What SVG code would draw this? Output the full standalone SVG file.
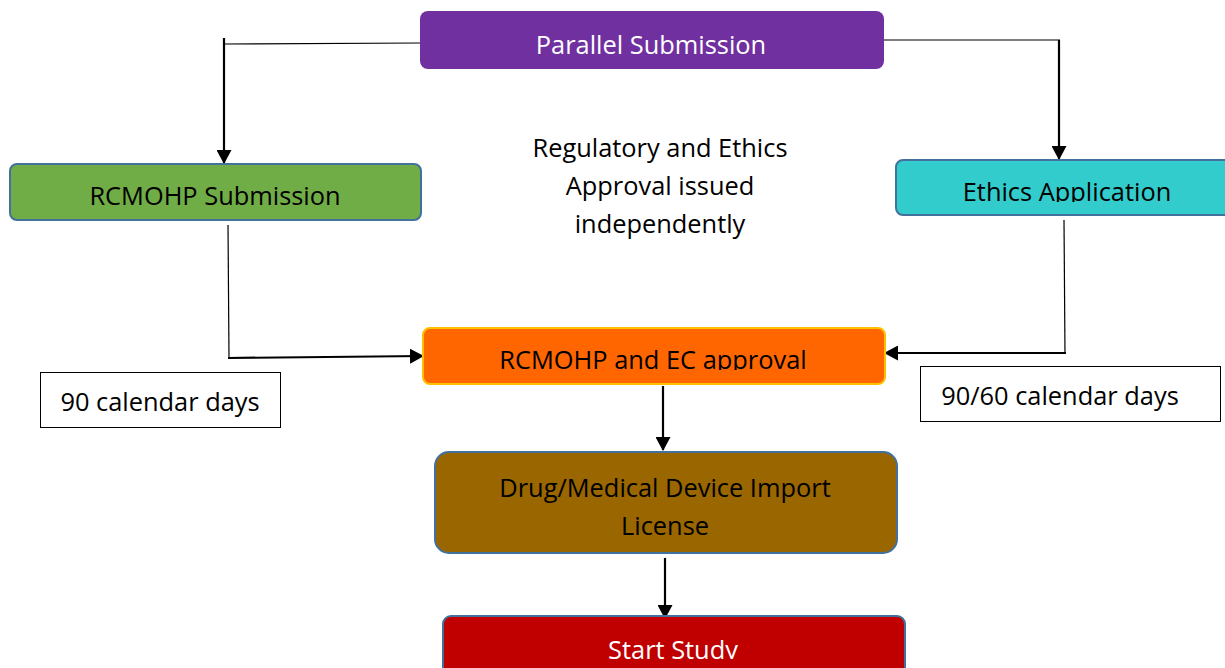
<svg xmlns="http://www.w3.org/2000/svg" width="1225" height="668" viewBox="0 0 1225 668">
<style>
.lbl{font-family:"Open Sans","Noto Sans","Liberation Sans",sans-serif;font-size:25.4px;text-anchor:middle;fill:#000}
.w{fill:#fff}
.thin{stroke:#000;stroke-width:1.2;fill:none}
.thick{stroke:#000;stroke-width:2.2;fill:none}
.nb{stroke:#41719C;stroke-width:2}
</style>
<defs>
<marker id="ahb" markerWidth="14" markerHeight="15" refX="13" refY="7.5" orient="auto" markerUnits="userSpaceOnUse">
<path d="M0,0 L14,7.5 L0,15 Z" fill="#000"/>
</marker>
<clipPath id="c1"><rect x="0" y="0" width="1225" height="202"/></clipPath>
<clipPath id="c2"><rect x="0" y="0" width="1225" height="370"/></clipPath>
<clipPath id="c3"><rect x="0" y="0" width="1225" height="659"/></clipPath>
</defs>
<g id="connectors">
<polyline class="thin" points="420,43 224,44"/>
<line class="thick" x1="224" y1="38" x2="224" y2="163" marker-end="url(#ahb)"/>
<polyline class="thin" points="884,40 1060,40"/>
<line class="thick" x1="1059" y1="40" x2="1059" y2="159" marker-end="url(#ahb)"/>
<line class="thin" x1="228" y1="225" x2="229" y2="358"/>
<line class="thick" x1="228" y1="358" x2="423" y2="356" marker-end="url(#ahb)"/>
<line class="thin" x1="1064" y1="220" x2="1065" y2="354"/>
<line class="thick" x1="1066" y1="353" x2="885" y2="353" marker-end="url(#ahb)"/>
<line class="thick" x1="663" y1="386" x2="663" y2="450" marker-end="url(#ahb)"/>
<line class="thick" x1="665" y1="558" x2="665" y2="618" marker-end="url(#ahb)"/>
</g>
<g id="parallel">
<rect x="420" y="11" width="464" height="58" rx="8" fill="#7030A0"/>
<text class="lbl w" x="651" y="54">Parallel Submission</text>
</g>
<g id="rcmohp">
<rect class="nb" x="10" y="164" width="411" height="56" rx="7" fill="#70AD47"/>
<text class="lbl" x="215" y="205">RCMOHP Submission</text>
</g>
<g id="ethics">
<rect class="nb" x="896" y="160" width="340" height="55" rx="7" fill="#33CCCC"/>
<text class="lbl" x="1067" y="201" clip-path="url(#c1)">Ethics Application</text>
</g>
<g id="note">
<text class="lbl" x="660" y="157">Regulatory and Ethics</text>
<text class="lbl" x="660" y="195">Approval issued</text>
<text class="lbl" x="660" y="233">independently</text>
</g>
<g id="approval">
<rect x="423" y="328" width="462" height="56" rx="7" fill="#FF6600" stroke="#FFC000" stroke-width="2"/>
<text class="lbl" x="653" y="369" clip-path="url(#c2)">RCMOHP and EC approval</text>
</g>
<g id="days90">
<rect x="40.5" y="372.5" width="240" height="55" fill="#fff" stroke="#000" stroke-width="1"/>
<text class="lbl" x="160" y="411">90 calendar days</text>
</g>
<g id="days9060">
<rect x="920.5" y="366.5" width="300" height="55" fill="#fff" stroke="#000" stroke-width="1"/>
<text class="lbl" x="1060" y="405">90/60 calendar days</text>
</g>
<g id="import">
<rect class="nb" x="435" y="452" width="462" height="101" rx="14" fill="#996600"/>
<text class="lbl" x="665" y="497">Drug/Medical Device Import</text>
<text class="lbl" x="665" y="535">License</text>
</g>
<g id="start">
<rect class="nb" x="443" y="616" width="462" height="70" rx="8" fill="#C00000"/>
<text class="lbl w" x="673" y="659" clip-path="url(#c3)">Start Study</text>
</g>
</svg>
